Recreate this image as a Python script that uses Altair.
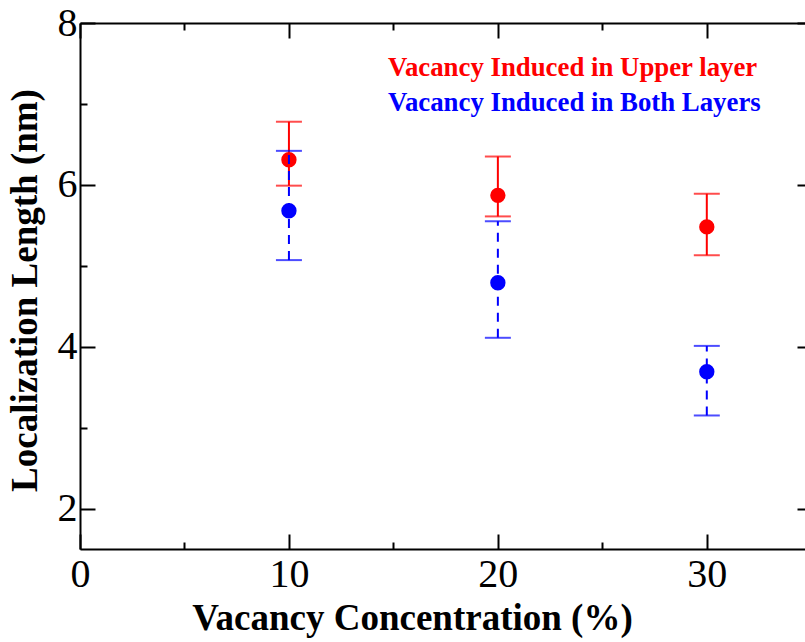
import altair as alt
import pandas as pd

# ---- data ----
conc = [10, 20, 30]
upper_mean = [6.31, 5.87, 5.48]
upper_lo = [5.99, 5.61, 5.13]
upper_hi = [6.78, 6.35, 5.89]
both_mean = [5.68, 4.79, 3.69]
both_lo = [5.07, 4.11, 3.15]
both_hi = [6.42, 5.55, 4.01]

x_major = [0, 10, 20, 30]
x_minor = [5, 15, 25, 35]
y_major = [2, 4, 6, 8]
y_minor = [3, 5, 7]

legend_labels = ["Vacancy Induced in Upper layer", "Vacancy Induced in Both Layers"]

up = pd.DataFrame({"c": conc, "m": upper_mean, "lo": upper_lo, "hi": upper_hi})
bo = pd.DataFrame({"c": conc, "m": both_mean, "lo": both_lo, "hi": both_hi})

FONT = "Liberation Serif"
RED = "#ff0000"
BLUE = "#0000ff"
W, H = 725, 526

XS = alt.Scale(domain=[0, 34.7], nice=False, zero=False)
YS = alt.Scale(domain=[1.5, 8], nice=False, zero=False)


def ax(**kw):
    base = dict(grid=False, domain=False, ticks=False, labels=False, title=None,
                domainColor="black", domainWidth=2, tickColor="black", tickWidth=2,
                labelFont=FONT, labelColor="black", titleFont=FONT, titleColor="black",
                labelFlush=False)
    base.update(kw)
    return alt.Axis(**base)


# axes
x_main = ax(orient="bottom", domain=True, labels=True, values=x_major, labelFontSize=40,
            labelPadding=5, tickSize=0, title="Vacancy Concentration (%)", titleFontSize=37,
            titleFontWeight="bold", titleX=332, titleY=80, titleBaseline="alphabetic",
            titleAnchor="start", titleAlign="center")
y_main = ax(orient="left", domain=True, labels=True, values=y_major, labelFontSize=40,
            labelPadding=3, tickSize=0, labelBaseline="middle",
            title="Localization Length (nm)", titleFontSize=37, titleFontWeight="bold",
            titleX=-44, titleY=267, titleAngle=270, titleBaseline="alphabetic",
            titleAlign="center")
x_bmaj = ax(orient="bottom", ticks=True, values=x_major, tickSize=15, offset=-15)
y_lmaj = ax(orient="left", ticks=True, values=y_major, tickSize=15, offset=-15)
x_bmin = ax(orient="bottom", ticks=True, values=x_minor, tickSize=7, offset=-7)
y_lmin = ax(orient="left", ticks=True, values=y_minor, tickSize=7, offset=-7)
x_top = ax(orient="top", domain=True)
y_rmaj = ax(orient="right", ticks=True, values=y_major, tickSize=8, offset=-8)
x_tmaj = ax(orient="top", ticks=True, values=x_major, tickSize=15, offset=-15)
x_tmin = ax(orient="top", ticks=True, values=x_minor, tickSize=7, offset=-7)


def X(axis, field="c"):
    return alt.X(f"{field}:Q", scale=XS, axis=axis)


def Y(axis, field):
    return alt.Y(f"{field}:Q", scale=YS, axis=axis)


red_rule = alt.Chart(up).mark_rule(color=RED, strokeWidth=2).encode(
    x=X(x_main), y=Y(y_main, "lo"), y2="hi:Q")
red_cap_lo = alt.Chart(up).mark_tick(color=RED, orient="horizontal", size=26, thickness=2).encode(
    x=X(x_bmaj), y=Y(y_lmaj, "lo"))
red_cap_hi = alt.Chart(up).mark_tick(color=RED, orient="horizontal", size=26, thickness=2).encode(
    x=X(x_bmin), y=Y(y_lmin, "hi"))
red_pts = alt.Chart(up).mark_point(filled=True, shape="circle", size=235, color=RED, opacity=1).encode(
    x=X(x_top), y=Y(y_rmaj, "m"))

blue_rule = alt.Chart(bo).mark_rule(color=BLUE, strokeWidth=2, strokeDash=[9, 7]).encode(
    x=X(x_tmaj), y=Y(None, "lo"), y2="hi:Q")
blue_cap_lo = alt.Chart(bo).mark_tick(color=BLUE, orient="horizontal", size=26, thickness=2).encode(
    x=X(x_tmin), y=Y(None, "lo"))
blue_cap_hi = alt.Chart(bo).mark_tick(color=BLUE, orient="horizontal", size=26, thickness=2).encode(
    x=X(None), y=Y(None, "hi"))
blue_pts = alt.Chart(bo).mark_point(filled=True, shape="circle", size=235, color=BLUE, opacity=1).encode(
    x=X(None), y=Y(None, "m"))


def legend_line(label, color, ypix):
    return alt.Chart(pd.DataFrame({"t": [label]})).mark_text(
        font=FONT, fontSize=26.8, fontWeight="bold", align="left", baseline="alphabetic",
        color=color).encode(x=alt.value(308), y=alt.value(ypix), text="t:N")


leg_red = legend_line(legend_labels[0], RED, 53)
leg_blue = legend_line(legend_labels[1], BLUE, 88)

chart = alt.layer(
    red_rule, red_cap_lo, red_cap_hi, red_pts,
    blue_rule, blue_cap_lo, blue_cap_hi, blue_pts, leg_red, leg_blue
).resolve_scale(x="independent", y="independent").resolve_axis(
    x="independent", y="independent"
).properties(
    width=W, height=H,
    autosize=alt.AutoSizeParams(type="none"),
    padding={"left": 80, "top": 23, "right": 0, "bottom": 93},
    background="white",
).configure_view(stroke=None)

chart.save("out.html", embed_options={"renderer": "svg", "actions": False})
